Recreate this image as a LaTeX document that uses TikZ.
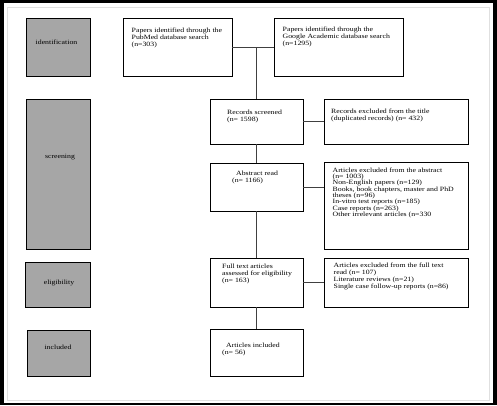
\documentclass[tikz,border=0pt]{standalone}
\usepackage{fontspec}
\setmainfont{Liberation Serif}[FakeStretch=1.2]
\usepackage{tikz}
\definecolor{stagegray}{RGB}{166,166,166}
\definecolor{linkgray}{RGB}{64,64,64}

\begin{document}
\begin{tikzpicture}[x=1pt,y=-1pt,
  stagebox/.style={draw=black, line width=0.7pt, fill=stagegray, inner sep=0pt},
  flowbox/.style={draw=black, line width=0.7pt, fill=white, inner sep=0pt},
  stagetxt/.style={inner sep=0pt, font=\fontsize{6.5}{7}\selectfont},
  flowtxt/.style={anchor=north west, inner sep=0pt, align=left, font=\fontsize{6.5}{7}\selectfont},
  link/.style={draw=linkgray, line width=1pt}]
\useasboundingbox (0,0) rectangle (497,405);
\fill[black] (0,0) rectangle (497,405);
\fill[white] (4,3) rectangle (493,402.5);
\draw[black!12, line width=0.5pt] (7,7) rectangle (489,400);

\node[stagebox, minimum width=64pt, minimum height=58pt] (ident) at (58,47) {};
\node[stagebox, minimum width=64pt, minimum height=150pt] (screen) at (58,174) {};
\node[stagebox, minimum width=65pt, minimum height=45pt] (elig) at (57.5,284.5) {};
\node[stagebox, minimum width=63pt, minimum height=46pt] (incl) at (58.5,353) {};
\node[stagetxt] (identtxt) at (56.5,42) {identification};
\node[stagetxt] (screentxt) at (60,156.7) {screening};
\node[stagetxt] (eligtxt) at (59,283.3) {eligibility};
\node[stagetxt] (incltxt) at (58,347.3) {included};

\node[flowbox, minimum width=109pt, minimum height=58pt] (pubmed) at (177.5,47) {};
\node[flowbox, minimum width=129pt, minimum height=58pt] (google) at (338.5,47) {};
\node[flowbox, minimum width=93pt, minimum height=45pt] (records) at (256.5,121.5) {};
\node[flowbox, minimum width=144pt, minimum height=45pt] (recexcl) at (396,121.5) {};
\node[flowbox, minimum width=93pt, minimum height=48pt] (abstract) at (256.5,187) {};
\node[flowbox, minimum width=144pt, minimum height=87pt] (absexcl) at (396,205.5) {};
\node[flowbox, minimum width=93pt, minimum height=49pt] (fulltext) at (256.5,282.5) {};
\node[flowbox, minimum width=144pt, minimum height=49pt] (fullexcl) at (396,282.5) {};
\node[flowbox, minimum width=93pt, minimum height=47pt] (included) at (256.5,352.5) {};

\node[flowtxt] (pubmedtxt) at (131.5,27.5) {Papers identified through the\\PubMed database search\\(n=303)};
\node[flowtxt] (googletxt) at (282.5,27) {Papers identified through the\\Google Academic database search\\(n=1295)};
\node[flowtxt] (recordstxt) at (227,110) {Records screened\\(n= 1598)};
\node[flowtxt] (recexcltxt) at (331,109) {Records excluded from the title\\(duplicated records) (n= 432)};
\node[flowtxt] (abstracttxt) at (232,170.5) {\hspace*{4pt}Abstract read\\(n= 1166)};
\node[flowtxt, font=\fontsize{6.5}{6.3}\selectfont] (absexcltxt) at (332.5,167.5) {Articles excluded from the abstract\\(n= 1003)\\Non-English papers (n=129)\\Books, book chapters, master and PhD\\theses (n=96)\\In-vitro test reports (n=185)\\Case reports (n=263)\\Other irrelevant articles (n=330};
\node[flowtxt] (fulltexttxt) at (222,264) {Full text articles\\assessed for eligibility\\(n= 163)};
\node[flowtxt] (fullexcltxt) at (333.5,262.5) {Articles excluded from the full text\\read (n= 107)\\Literature reviews (n=21)\\Single case follow-up reports (n=86)};
\node[flowtxt] (includedtxt) at (222,342.5) {\hspace*{4pt}Articles included\\(n= 56)};

\draw[link] (pubmed.east) -- (google.west);
\draw[link] (records.north) -- (records.north |- pubmed.east);
\draw[link] (records.east) -- (recexcl.west);
\draw[link] (records.south) -- (abstract.north);
\draw[link] (abstract.east) -- (abstract.east -| absexcl.west);
\draw[link] (abstract.south) -- (fulltext.north);
\draw[link] (fulltext.east) -- (fullexcl.west);
\draw[link] (fulltext.south) -- (included.north);
\end{tikzpicture}
\end{document}
